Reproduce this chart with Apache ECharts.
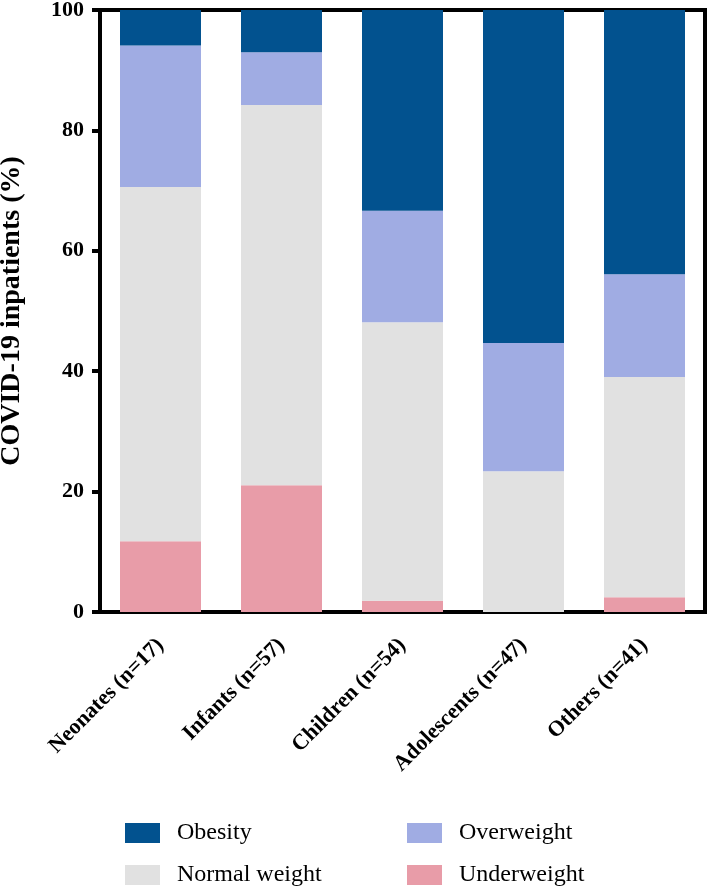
<!DOCTYPE html>
<html><head><meta charset="utf-8">
<script src="https://cdn.jsdelivr.net/npm/echarts@6/dist/echarts.min.js"></script>
<style>html,body{margin:0;padding:0;background:#fff}#c{width:709px;height:888px}</style>
</head><body><div id="c"></div>
<script>
const categories = ['Neonates (n=17)', 'Infants (n=57)', 'Children (n=54)', 'Adolescents (n=47)', 'Others (n=41)'];
const underweight = [11.76, 21.05, 1.85, 0, 2.44];
const normalWeight = [58.82, 63.16, 46.30, 23.40, 36.59];
const overweight = [23.53, 8.77, 18.52, 21.28, 17.07];
const obesity = [5.88, 7.02, 33.33, 55.32, 43.90];
const yTicks = [0, 20, 40, 60, 80, 100];

const font = "'Liberation Serif', 'Times New Roman', serif";
const chart = echarts.init(document.getElementById('c'));
function s(name, data, color) {
  return { name, type: 'bar', stack: 'a', data, barWidth: 81, itemStyle: { color }, emphasis: { disabled: true } };
}
function lg(name, left, top) {
  return {
    data: [name], left, top, orient: 'horizontal',
    itemWidth: 35, itemHeight: 20, itemGap: 0, icon: 'rect',
    textStyle: { fontFamily: font, fontSize: 24, color: '#000', padding: [0, 0, 0, 12] },
    itemStyle: { borderWidth: 0 }, padding: 0
  };
}
chart.setOption({
  animation: false,
  grid: { left: 100, right: 4, top: 10, bottom: 276, show: true, borderColor: '#000', borderWidth: 4,
    containLabel: false, outerBoundsMode: 'none' },
  legend: [lg('Obesity', 125, 821), lg('Normal weight', 125, 863), lg('Overweight', 407, 821), lg('Underweight', 407, 863)],
  xAxis: {
    type: 'category', data: categories,
    axisLine: { lineStyle: { color: '#000', width: 4 } },
    axisTick: { lineStyle: { color: '#000', width: 4 }, length: 8, alignWithLabel: true },
    axisLabel: { rotate: 45, interval: 0, margin: 30, fontFamily: font, fontWeight: 'bold', fontSize: 22, color: '#000' }
  },
  yAxis: {
    type: 'value', min: 0, max: 100, interval: 20,
    name: 'COVID-19 inpatients (%)', nameLocation: 'middle', nameGap: 74,
    nameTextStyle: { fontFamily: font, fontWeight: 'bold', fontSize: 28, color: '#000' },
    axisLine: { show: true, lineStyle: { color: '#000', width: 4 } },
    axisTick: { show: true, lineStyle: { color: '#000', width: 4 }, length: 8 },
    splitLine: { show: false },
    axisLabel: { margin: 16, fontFamily: font, fontWeight: 'bold', fontSize: 22, color: '#000',
      formatter: v => yTicks.includes(v) ? String(v) : '' }
  },
  series: [
    s('Underweight', underweight, '#E89CA8'),
    s('Normal weight', normalWeight, '#E1E1E1'),
    s('Overweight', overweight, '#A0ACE3'),
    s('Obesity', obesity, '#02528F')
  ]
});
</script></body></html>
